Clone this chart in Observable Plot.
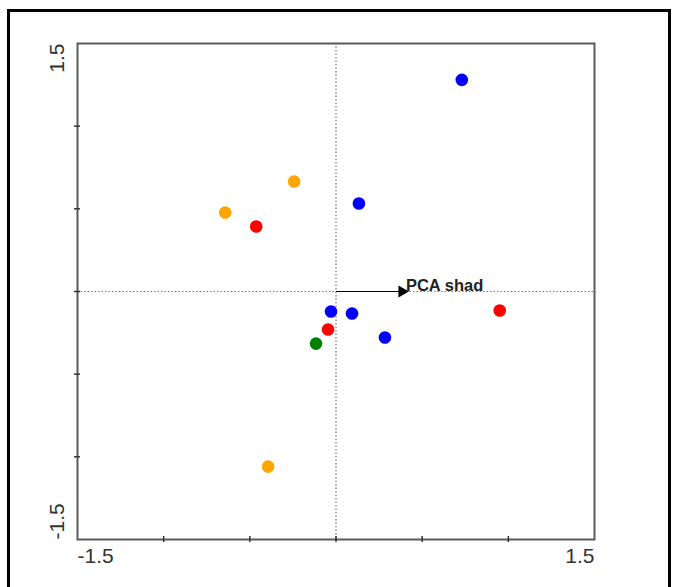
<!DOCTYPE html>
<html>
<head>
<meta charset="utf-8">
<script src="https://cdn.jsdelivr.net/npm/d3@7"></script>
<script src="https://cdn.jsdelivr.net/npm/@observablehq/plot@0.6"></script>
<style>
  html, body { margin: 0; padding: 0; background: #fff; }
  #wrap { position: relative; width: 676px; height: 587px; overflow: hidden; }
  #border { position: absolute; left: 7px; top: 9px; width: 664px; height: 620px; box-sizing: border-box; border: 3px solid #000; pointer-events: none; }
  #chart { position: absolute; left: 0; top: 0; }
</style>
</head>
<body>
<div id="wrap"><div id="chart"></div><div id="border"></div></div>
<script>
// Sample scores
const pointX = [0.73, 0.133, -0.029, 0.093, 0.284, -0.463, -0.046, 0.950, -0.643, -0.243, -0.394, -0.116];
const pointY = [1.28, 0.532, -0.121, -0.133, -0.278, 0.393, -0.230, -0.115, 0.478, 0.665, -1.059, -0.315];
const pointGroup = ["blue","blue","blue","blue","blue","red","red","red","orange","orange","orange","green"];
const groupNames = ["blue","red","orange","green"];
const groupColors = ["#0000ff","#ff0000","#ffb300","#27a127"];

// Environmental variable arrow
const arrowName = ["PCA shad"];
const arrowX = [0.40];
const arrowY = [0.0];

// Axis
const axisMin = -1.5, axisMax = 1.5;
const tickValues = [-1.5, -1.0, -0.5, 0, 0.5, 1.0, 1.5];
const tickLabels = ["-1.5", "1.5"];

const points = pointX.map((x, i) => ({x, y: pointY[i], g: pointGroup[i]}));
const arrows = arrowName.map((name, i) => ({name, x: arrowX[i], y: arrowY[i]}));
const innerTicks = tickValues.slice(1, -1);

const font = "Arial, 'Liberation Sans', sans-serif";

const chart = Plot.plot({
  width: 676,
  height: 587,
  marginLeft: 77,
  marginRight: 82,
  marginTop: 43,
  marginBottom: 48,
  style: {fontFamily: font, background: "transparent"},
  x: {domain: [axisMin, axisMax], axis: null},
  y: {domain: [axisMin, axisMax], axis: null},
  color: {domain: groupNames, range: groupColors},
  marks: [
    Plot.ruleX([0], {stroke: "#777", strokeDasharray: "1.5,2", strokeWidth: 1.2}),
    Plot.ruleY([0], {stroke: "#777", strokeDasharray: "1.5,2", strokeWidth: 1.2}),
    Plot.frame({stroke: "#5a5a5a", strokeWidth: 2}),
    // crossing tick marks
    Plot.ruleX(innerTicks, {x: d => d, y1: axisMin, y2: axisMin, insetTop: -3, insetBottom: -3, stroke: "#333", strokeWidth: 1.5}),
    Plot.ruleY(innerTicks, {y: d => d, x1: axisMin, x2: axisMin, insetLeft: -3, insetRight: -3, stroke: "#333", strokeWidth: 1.5}),
    // tick labels
    Plot.text([axisMin], {x: d => d, y: axisMin, text: () => tickLabels[0], textAnchor: "start", dy: 17, fontSize: 21, fill: "#333"}),
    Plot.text([axisMax], {x: d => d, y: axisMin, text: () => tickLabels[1], textAnchor: "end", dy: 17, fontSize: 21, fill: "#333"}),
    Plot.text([axisMin], {y: d => d, x: axisMin, text: () => tickLabels[0], textAnchor: "start", rotate: -90, dx: -20, fontSize: 21, fill: "#333"}),
    Plot.text([axisMax], {y: d => d, x: axisMin, text: () => tickLabels[1], textAnchor: "end", rotate: -90, dx: -20, fontSize: 21, fill: "#333"}),
    // arrow
    Plot.link(arrows, {x1: 0, y1: 0, x2: "x", y2: "y", stroke: "#000", strokeWidth: 1.2}),
    Plot.dot(arrows, {x: "x", y: "y", symbol: "triangle", rotate: 90, r: 4.5, fill: "#000", stroke: "none", dx: -3}),
    Plot.text(arrows, {x: "x", y: "y", text: "name", textAnchor: "start", dx: 1, dy: -6, fontSize: 16.5, fontWeight: "bold", fill: "#222"}),
    // points
    Plot.dot(points, {x: "x", y: "y", fill: "g", r: 6.3, stroke: "none"})
  ]
});
document.getElementById("chart").appendChild(chart);
</script>
</body>
</html>
